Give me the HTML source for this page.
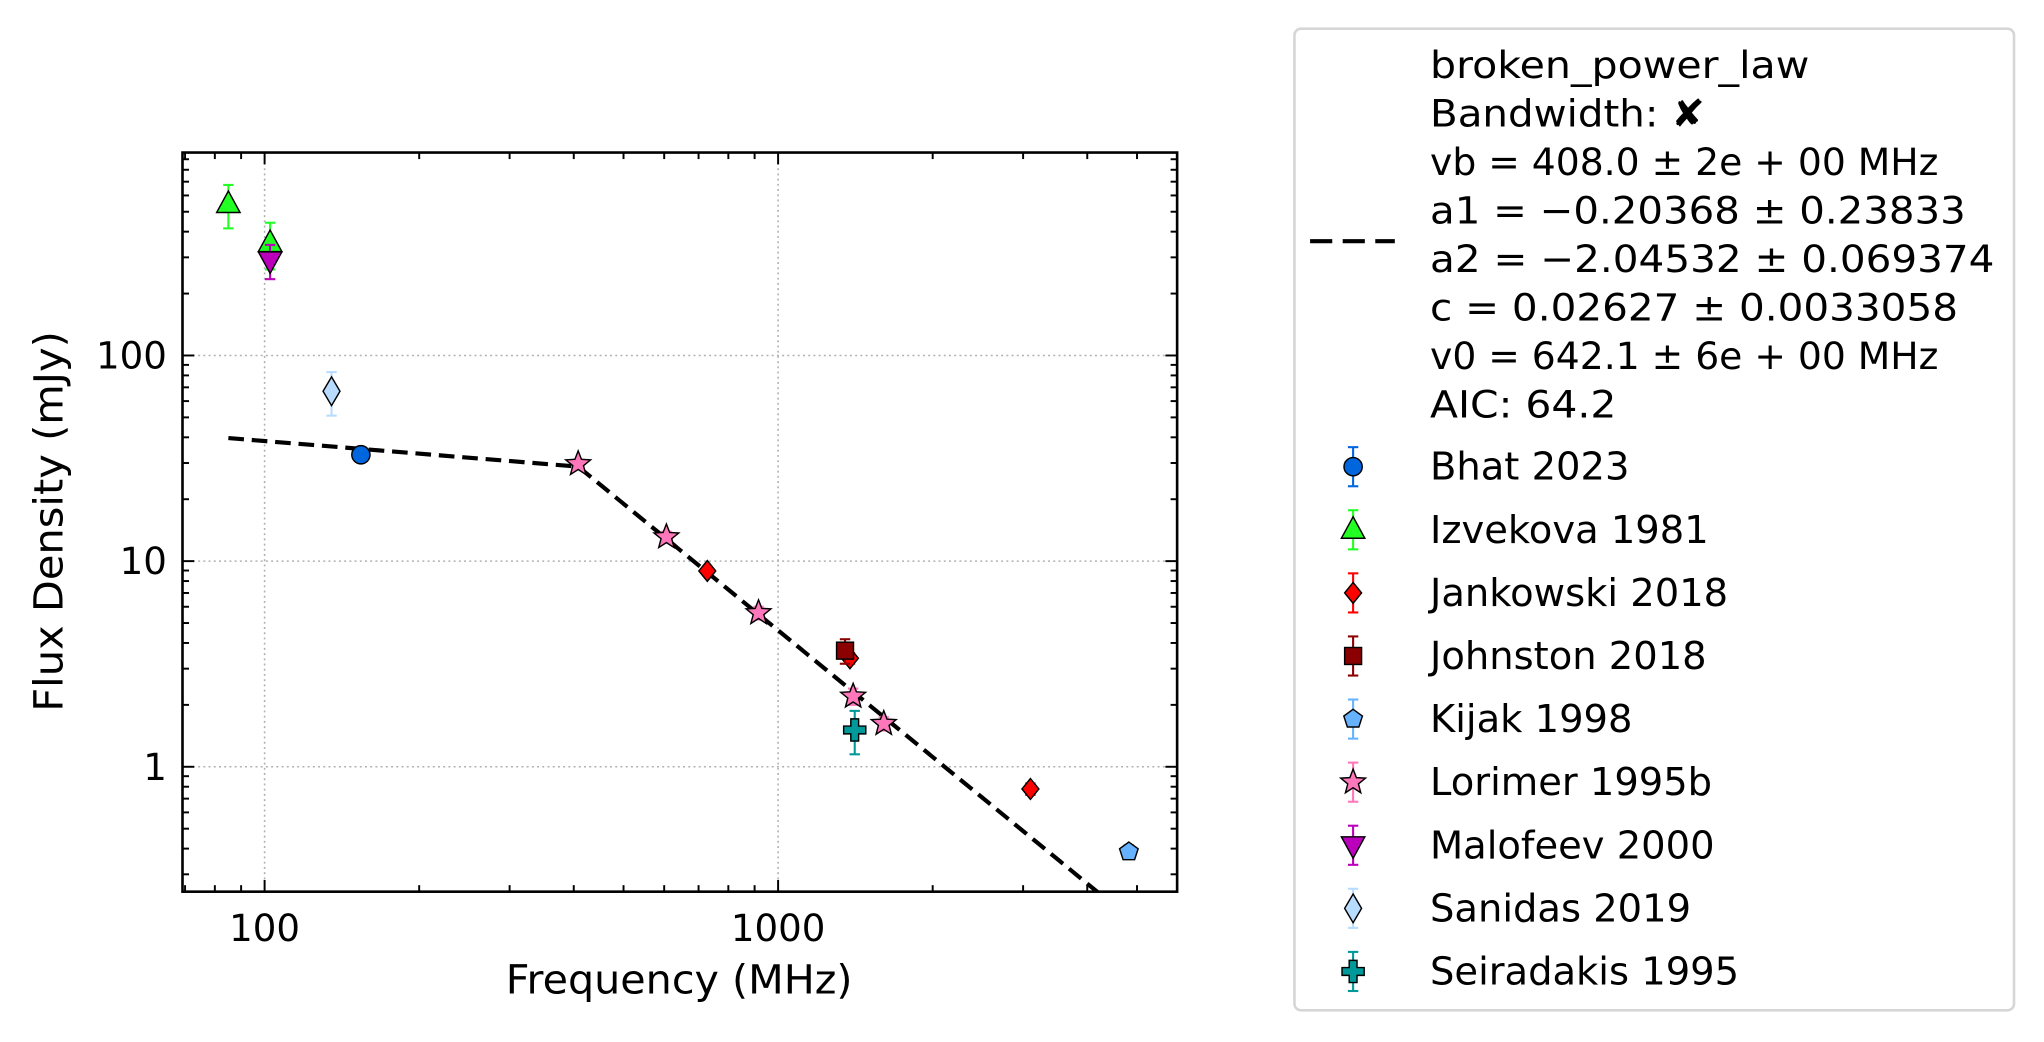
<!DOCTYPE html>
<html><head><meta charset="utf-8"><style>
html,body{margin:0;padding:0;background:#fff;}
svg{display:block;font-family:"DejaVu Sans","Liberation Sans",sans-serif;}
</style></head><body>
<svg id="chart" width="2044" height="1042" viewBox="0 0 1568 799.3" xmlns="http://www.w3.org/2000/svg">
<defs><clipPath id="clip"><rect x="140" y="117" width="763" height="567"/></clipPath></defs>
<g id="grid"></g>
<g id="fit" clip-path="url(#clip)"></g>
<g id="marks"></g>
<g id="axes"></g>
<text x="521" y="762" font-size="31" text-anchor="middle" textLength="266" lengthAdjust="spacingAndGlyphs">Frequency (MHz)</text>
<text x="0" y="0" font-size="31" text-anchor="middle" transform="translate(48 400) rotate(-90)" textLength="292" lengthAdjust="spacingAndGlyphs">Flux Density (mJy)</text>
<g id="legend"></g>
</svg>
<script>
const series = ["Bhat 2023","Izvekova 1981","Jankowski 2018","Johnston 2018","Kijak 1998","Lorimer 1995b","Malofeev 2000","Sanidas 2019","Seiradakis 1995"];
const colors = ["#0066dd","#22ff22","#ff0000","#8b0000","#66b2ff","#ff77bb","#bb00bb","#b8dcff","#009999"];
const markers = ["circle","triangle","diamond","square","pentagon","star","tridown","thindiamond","plus"];
const freqs = [[154],[85,102.5],[728,1380,3100],[1350],[4820],[408,606,916,1400,1606],[102.5],[135],[1410]];
const fluxes = [[32.9],[545,352],[8.96,3.37,0.78],[3.67],[0.386],[29.7,13.1,5.6,2.2,1.62],[290],[67],[1.51]];
const errors = [[2],[130,90],[0.4,0.2,0.05],[0.5],[0.03],[1.5,0.8,0.4,0.2,0.12],[55],[16],[0.36]];
const fitParams = {vb:408.0,a1:-0.20368,a2:-2.04532,c:0.02627,v0:642.1};
const fitRange = [85,4820];
const xTicks = [100,1000];
const xTickLabels = ["100","1000"];
const yTicks = [1,10,100];
const yTickLabels = ["1","10","100"];
const legendLines = ["broken_power_law","Bandwidth: \u2718","vb = 408.0 \u00b1 2e + 00 MHz","a1 = \u22120.20368 \u00b1 0.23833","a2 = \u22122.04532 \u00b1 0.069374","c = 0.02627 \u00b1 0.0033058","v0 = 642.1 \u00b1 6e + 00 MHz","AIC: 64.2"];
const legendLineWidths = [291,211,390,411,433,405,390,143];

const L=140,R=903,T=117,B=684;
const xmin=Math.log10(69.2),xmax=Math.log10(5985),ymin=Math.log10(0.247),ymax=Math.log10(970);
const X=v=>L+(Math.log10(v)-xmin)/(xmax-xmin)*(R-L);
const Y=v=>B-(Math.log10(v)-ymin)/(ymax-ymin)*(B-T);
const NS="http://www.w3.org/2000/svg";
function mk(tag,attrs,parent){const e=document.createElementNS(NS,tag);for(const k in attrs)e.setAttribute(k,attrs[k]);parent.appendChild(e);return e;}
const grid=document.getElementById('grid'),axes=document.getElementById('axes'),marks=document.getElementById('marks'),fitG=document.getElementById('fit'),leg=document.getElementById('legend');

xTicks.forEach((t,i)=>{const x=X(t);
 const g=mk('line',{x1:x,x2:x,y1:T,y2:B,stroke:'#b0b0b0','stroke-width':1.2,'stroke-dasharray':'1.5,2.5'},grid);
 
 
 const tx=mk('text',{x:x,y:B+38,'font-size':28.5,'text-anchor':'middle'},axes);tx.textContent=xTickLabels[i];
 
 
});
yTicks.forEach((t,i)=>{const y=Y(t);
 const g=mk('line',{x1:L,x2:R,y1:y,y2:y,stroke:'#b0b0b0','stroke-width':1.2,'stroke-dasharray':'1.5,2.5'},grid);
 
 
 const tx=mk('text',{x:L-12,y:y+10,'font-size':28.5,'text-anchor':'end'},axes);tx.textContent=yTickLabels[i];
 
 
});
for(let d=10;d<=1000;d*=10)for(let m=1;m<10;m++){const v=d*m;if(Math.log10(v)<xmin||Math.log10(v)>xmax)continue;const x=X(v);const len=(m===1)?9:5;
 mk('line',{x1:x,x2:x,y1:B,y2:B-len,stroke:'#000','stroke-width':1.5},axes);mk('line',{x1:x,x2:x,y1:T,y2:T+len,stroke:'#000','stroke-width':1.5},axes);}
for(let d=0.1;d<=100;d*=10)for(let m=1;m<10;m++){const v=d*m;if(Math.log10(v)<ymin||Math.log10(v)>ymax)continue;const y=Y(v);const len=(m===1)?9:5;
 mk('line',{x1:L,x2:L+len,y1:y,y2:y,stroke:'#000','stroke-width':1.5},axes);mk('line',{x1:R,x2:R-len,y1:y,y2:y,stroke:'#000','stroke-width':1.5},axes);}
const frame=mk('rect',{x:L,y:T,width:R-L,height:B-T,fill:'none',stroke:'#000','stroke-width':2},axes);



function fitVal(v){const p=fitParams;const s=v<p.vb?p.c*Math.pow(v/p.v0,p.a1):p.c*Math.pow(v/p.v0,p.a2)*Math.pow(p.vb/p.v0,p.a1-p.a2);return s*1000;}
const n=200;let d='';const pts=[fitRange[0],fitParams.vb];for(let i=1;i<=n;i++){pts.push(Math.pow(10,Math.log10(fitParams.vb)+(Math.log10(fitRange[1])-Math.log10(fitParams.vb))*i/n));}
pts.forEach((v,i)=>{d+=(i?'L':'M')+X(v).toFixed(2)+','+Y(fitVal(v)).toFixed(2);});
const fl=mk('path',{d:d,fill:'none',stroke:'#000','stroke-width':3.2,'stroke-dasharray':'12,6'},fitG);



function marker(type,cx,cy,fill,parent){let e;const st={fill:fill,stroke:'#000','stroke-width':1.1};
 const poly=p=>mk('polygon',Object.assign({points:p.map(q=>(cx+q[0]).toFixed(2)+','+(cy+q[1]).toFixed(2)).join(' ')},st),parent);
 if(type==='circle')e=mk('circle',Object.assign({cx:cx,cy:cy,r:7},st),parent);
 else if(type==='square')e=mk('rect',Object.assign({x:cx-6.5,y:cy-6.5,width:13,height:13},st),parent);
 else if(type==='triangle')e=poly([[0,-10],[9,6.5],[-9,6.5]]);
 else if(type==='tridown')e=poly([[0,10],[9,-6.5],[-9,-6.5]]);
 else if(type==='diamond')e=poly([[0,-8],[6.5,0],[0,8],[-6.5,0]]);
 else if(type==='thindiamond')e=poly([[0,-11],[6.5,0],[0,11],[-6.5,0]]);
 else if(type==='pentagon'){const p=[];for(let k=0;k<5;k++){const a=-Math.PI/2+k*2*Math.PI/5;p.push([7.5*Math.cos(a),7.5*Math.sin(a)]);}e=poly(p);}
 else if(type==='star'){const p=[];for(let k=0;k<10;k++){const a=-Math.PI/2+k*Math.PI/5;const r=k%2?4.3:10;p.push([r*Math.cos(a),r*Math.sin(a)]);}e=poly(p);}
 else if(type==='plus'){const a=3,b=8.5;e=poly([[-a,-b],[a,-b],[a,-a],[b,-a],[b,a],[a,a],[a,b],[-a,b],[-a,a],[-b,a],[-b,-a],[-a,-a]]);}
 return e;}

series.forEach((name,si)=>{const g=mk('g',{},marks);
 
 
 freqs[si].forEach((f,j)=>{const x=X(f),y=Y(fluxes[si][j]);const e=errors[si][j];
  const y1=Y(fluxes[si][j]+e),y2=Y(Math.max(fluxes[si][j]-e,1e-3));
  mk('line',{x1:x,x2:x,y1:y1,y2:y2,stroke:colors[si],'stroke-width':1.6},g);
  mk('line',{x1:x-4,x2:x+4,y1:y1,y2:y1,stroke:colors[si],'stroke-width':1.6},g);
  mk('line',{x1:x-4,x2:x+4,y1:y2,y2:y2,stroke:colors[si],'stroke-width':1.6},g);
  const m=marker(markers[si],x,y,colors[si],g);
  
  
 });
});

const box=mk('rect',{x:993,y:22,width:552,height:753,rx:5,fill:'#fff',stroke:'#d6d6d6','stroke-width':2},leg);


const dl=mk('line',{x1:1005,x2:1070,y1:185,y2:185,stroke:'#000','stroke-width':3.2,'stroke-dasharray':'17,8'},leg);


legendLines.forEach((t,i)=>{const y=60+i*37.2;const tx=mk('text',{x:1097,y:y,'font-size':29,textLength:legendLineWidths[i],lengthAdjust:'spacingAndGlyphs'},leg);tx.textContent=t;
 
 });
series.forEach((name,si)=>{const y=358+si*48.4;const g=mk('g',{},leg);
 
 
 mk('line',{x1:1038,x2:1038,y1:y-15,y2:y+15,stroke:colors[si],'stroke-width':1.6},g);
 mk('line',{x1:1034,x2:1042,y1:y-15,y2:y-15,stroke:colors[si],'stroke-width':1.6},g);
 mk('line',{x1:1034,x2:1042,y1:y+15,y2:y+15,stroke:colors[si],'stroke-width':1.6},g);
 marker(markers[si],1038,y,colors[si],g);
 const tx=mk('text',{x:1097,y:y+10,'font-size':29.5},g);tx.textContent=name;
});
</script>
</body></html>
